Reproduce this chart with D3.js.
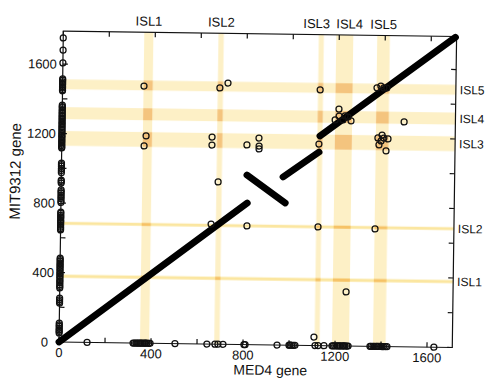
<!DOCTYPE html>
<html>
<head>
<meta charset="utf-8">
<script src="https://cdn.jsdelivr.net/npm/d3@7/dist/d3.min.js"></script>
<style>
  html, body { margin: 0; padding: 0; background: #fff; }
  svg { display: block; font-family: "Liberation Sans", Arial, Helvetica, sans-serif; }
</style>
</head>
<body>
<svg id="chart" width="485" height="379"></svg>
<script>
// Genomic islands: gene index ranges in each genome
const islandNames = ["ISL1", "ISL2", "ISL3", "ISL4", "ISL5"];
const med4IslandStart = [352, 675, 1111, 1187, 1365];
const med4IslandEnd   = [392, 698, 1133, 1261, 1420];
const mitIslandStart  = [370, 675, 1130, 1283, 1455];
const mitIslandEnd    = [388, 692, 1215, 1352, 1512];

// Syntenic ortholog runs (MED4 gene -> MIT9312 gene), drawn as thick strokes
const runMed4Start = [0, 807, 964, 1122];
const runMed4End   = [810, 975, 1119, 1705];
const runMitStart  = [0, 976, 968, 1207];
const runMitEnd    = [815, 818, 1114, 1785];

// Orthologs lying off the syntenic runs
const orthoMed4 = [354, 366, 358, 684, 719, 653, 653, 682, 654, 805, 857, 858, 858, 810,
  1120, 1118, 1119, 1108, 1203, 1187, 1204, 1221, 1230, 1243, 1256, 1245,
  1367, 1384, 1397, 1410, 1374, 1392, 1400, 1418, 1379, 1410, 1388, 1367, 1487];
const orthoMit = [1480, 1193, 1135, 1475, 1504, 1192, 1146, 934, 691, 1149, 1190, 1144, 1127, 683,
  1472, 1160, 683, 49, 1363, 1300, 1323, 1301, 1324, 1318, 1296, 311,
  1488, 1499, 1488, 1488, 1200, 1217, 1200, 1195, 1160, 1126, 1183, 676, 1294];

// MED4 genes with no MIT9312 ortholog (placed on the x axis)
const med4Only = [122, 322, 328, 335, 340, 347, 353, 357, 364, 371, 376, 382, 390, 396,
  504, 643, 678, 691, 713, 804, 809, 948, 1000, 1005, 1012, 1019, 1026, 1113, 1126, 1152,
  1187, 1192, 1199, 1207, 1212, 1219, 1224, 1232, 1238, 1243, 1251, 1257,
  1352, 1357, 1365, 1371, 1379, 1384, 1391, 1399, 1405, 1411, 1419, 1426, 1630];

// MIT9312 genes with no MED4 ortholog (placed on the y axis)
const mitOnly = [1750, 1680, 1606, 1514, 1507, 1498, 1489, 1481, 1470, 1462, 1451, 1446,
  1364, 1355, 1349, 1338, 1331, 1320, 1314, 1302, 1297, 1286, 1279, 1268, 1260, 1252,
  1241, 1236, 1224, 1218, 1207, 1200, 1191, 1182, 1176, 1164, 1157, 1148, 1139, 1131,
  1122, 1117, 1030, 1021, 1012, 998, 987, 975, 932, 924, 915, 875, 866, 857, 846, 835,
  826, 812, 803, 748, 740, 729, 720, 712, 700, 693, 683, 672, 661, 652, 645,
  483, 474, 466, 455, 447, 437, 429, 418, 410, 398, 391, 380, 372, 360, 351, 342, 330,
  320, 311, 253, 243, 233, 224, 109, 98, 90, 79, 70, 61, 52];

// Axis ticks
const xTickValues = [0, 200, 400, 600, 800, 1000, 1200, 1400, 1600];
const xTickLabels = [0, 400, 800, 1200, 1600];
const yTickValues = [0, 200, 400, 600, 800, 1000, 1200, 1400, 1600];
const yTickLabels = [0, 400, 800, 1200, 1600];

const x = d3.scaleLinear().domain([0, 1710]).range([59, 452.3]);
const y = d3.scaleLinear().domain([0, 1790]).range([342, 31]);

const svg = d3.select("#chart");
const defs = svg.append("defs");
defs.append("filter").attr("id", "soft")
  .attr("x", "-5%").attr("y", "-5%").attr("width", "110%").attr("height", "110%")
  .append("feGaussianBlur").attr("stdDeviation", 0.7);

// whole figure sits on a slight tilt
const root = svg.append("g").attr("transform", "rotate(0.8, 59, 342)");

const [x0, x1] = x.range();
const [yb, yt] = y.range();

// ---- island bands ----
const bands = root.append("g").attr("filter", "url(#soft)");
const vBands = islandNames.map((n, i) => ({ a: med4IslandStart[i], b: med4IslandEnd[i] }));
const hBands = islandNames.map((n, i) => ({ a: mitIslandStart[i], b: mitIslandEnd[i] }));
const thin = d => (d.b - d.a) < 30;

bands.selectAll("rect.v").data(vBands).join("rect")
  .attr("x", d => x(d.a)).attr("width", d => x(d.b) - x(d.a))
  .attr("y", yt).attr("height", yb - yt)
  .attr("fill", "#fdf0c6");

bands.selectAll("rect.h").data(hBands).join("rect")
  .attr("x", x0).attr("width", x1 - x0)
  .attr("y", d => y(d.b)).attr("height", d => y(d.a) - y(d.b))
  .attr("fill", d => thin(d) ? "#fbe6a0" : "#fdf0c6");

const crossings = [];
vBands.forEach(v => hBands.forEach(h => crossings.push({ v, h })));
bands.selectAll("rect.c").data(crossings).join("rect")
  .attr("x", d => x(d.v.a)).attr("width", d => x(d.v.b) - x(d.v.a))
  .attr("y", d => y(d.h.b)).attr("height", d => y(d.h.a) - y(d.h.b))
  .attr("fill", d => thin(d.h) ? "#f6c266" : "#f4c47e");

// ---- frame and ticks ----
const axisStyle = sel => sel.attr("stroke", "#111").attr("stroke-width", 1.2);
root.append("rect").attr("x", x0).attr("y", yt).attr("width", x1 - x0).attr("height", yb - yt)
  .attr("fill", "none").call(axisStyle);

const tl = 5;
root.append("g").selectAll("line").data(xTickValues).join("line")
  .attr("x1", d => x(d)).attr("x2", d => x(d)).attr("y1", yb).attr("y2", yb - tl).call(axisStyle);
root.append("g").selectAll("line").data(xTickValues).join("line")
  .attr("x1", d => x(d)).attr("x2", d => x(d)).attr("y1", yt).attr("y2", yt + tl).call(axisStyle);
root.append("g").selectAll("line").data(yTickValues).join("line")
  .attr("y1", d => y(d)).attr("y2", d => y(d)).attr("x1", x0).attr("x2", x0 + tl).call(axisStyle);
root.append("g").selectAll("line").data(yTickValues).join("line")
  .attr("y1", d => y(d)).attr("y2", d => y(d)).attr("x1", x1).attr("x2", x1 - tl).call(axisStyle);

root.append("g").selectAll("text").data(xTickLabels).join("text")
  .attr("x", d => x(d)).attr("y", 357)
  .attr("text-anchor", "middle").attr("font-size", 13).attr("fill", "#111")
  .text(d => d);
root.append("g").selectAll("text").data(yTickLabels).join("text")
  .attr("x", d => d === 0 ? x0 - 11 : x0 - 6).attr("y", d => y(d)).attr("dy", "0.36em")
  .attr("text-anchor", "end").attr("font-size", 13).attr("fill", "#111")
  .text(d => d);

// ---- syntenic runs ----
const line = d3.line();
const runs = runMed4Start.map((m, i) => [[x(m), y(runMitStart[i])], [x(runMed4End[i]), y(runMitEnd[i])]]);
root.append("g").selectAll("path").data(runs).join("path")
  .attr("d", line)
  .attr("fill", "none").attr("stroke", "#000").attr("stroke-width", 6.8)
  .attr("stroke-linecap", "round");

// ---- gene circles ----
const circ = sel => sel.attr("r", 3).attr("fill", "none")
  .attr("stroke", "#111").attr("stroke-width", 1.25);

root.append("g").selectAll("circle").data(orthoMed4.map((m, i) => [m, orthoMit[i]])).join("circle")
  .attr("cx", d => x(d[0])).attr("cy", d => y(d[1])).call(circ);
root.append("g").selectAll("circle").data(med4Only).join("circle")
  .attr("cx", d => x(d)).attr("cy", y(0)).call(circ);
root.append("g").selectAll("circle").data(mitOnly).join("circle")
  .attr("cx", x(0)).attr("cy", d => y(d)).call(circ);

// ---- island labels ----
const topX = vBands.map(d => x((d.a + d.b) / 2));
const minGap = 33;
for (let i = 1; i < topX.length; i++) {
  const gap = topX[i] - topX[i - 1];
  if (gap < minGap) { const s = (minGap - gap) / 2; topX[i - 1] -= s; topX[i] += s; }
}
root.append("g").selectAll("text").data(islandNames).join("text")
  .attr("x", (d, i) => topX[i]).attr("y", 24.5)
  .attr("text-anchor", "middle").attr("font-size", 13).attr("fill", "#111")
  .text(d => d);
root.append("g").selectAll("text").data(islandNames).join("text")
  .attr("x", x1 + 4).attr("y", (d, i) => y((hBands[i].a + hBands[i].b) / 2)).attr("dy", "0.36em")
  .attr("text-anchor", "start").attr("font-size", 12).attr("fill", "#111")
  .text(d => d);

// ---- axis titles ----
root.append("text").attr("x", (x0 + x1) / 2 + 15).attr("y", 372)
  .attr("text-anchor", "middle").attr("font-size", 14).attr("fill", "#111")
  .text("MED4 gene");
root.append("text").attr("transform", `translate(18, ${172}) rotate(-90)`)
  .attr("text-anchor", "middle").attr("font-size", 15).attr("fill", "#111")
  .text("MIT9312 gene");
</script>
</body>
</html>
